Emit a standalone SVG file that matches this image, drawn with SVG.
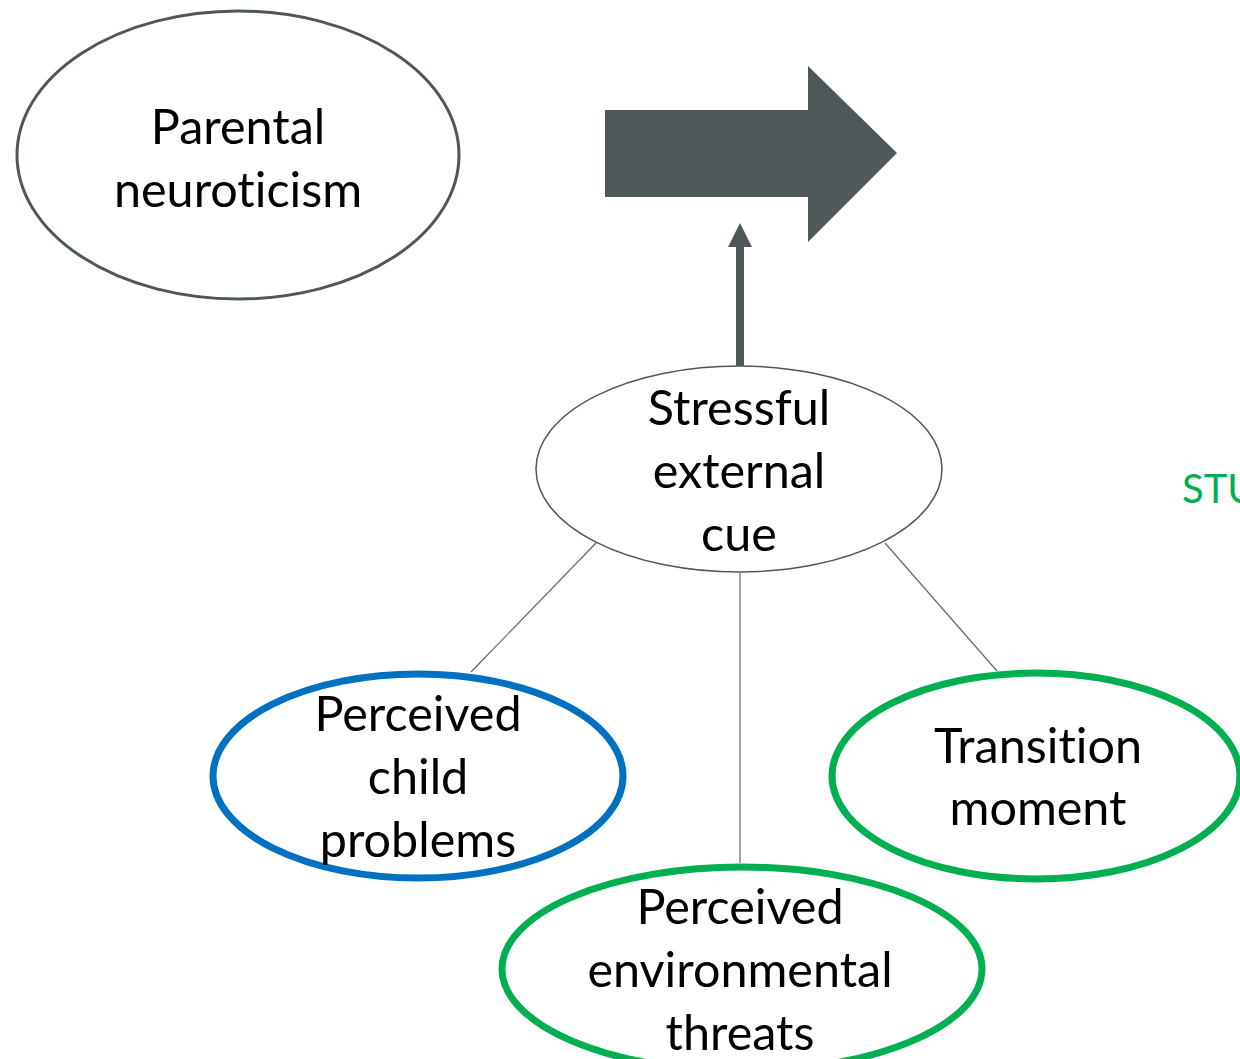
<svg xmlns="http://www.w3.org/2000/svg" width="1240" height="1059" viewBox="0 0 1240 1059">
<style>
.t{font-family:Lato,"Open Sans","Liberation Sans",sans-serif;font-size:48.5px;fill:#000;text-anchor:middle;font-variant-ligatures:none}
.dark{fill:#4f5858}
.conn{stroke:#666;stroke-width:1.2;fill:none}
</style>
<rect width="1240" height="1059" fill="#fff"/>
<g id="connectors">
<line class="conn" x1="596" y1="543" x2="471" y2="672"/>
<line class="conn" x1="740" y1="573" x2="740" y2="863"/>
<line class="conn" x1="885" y1="543" x2="997" y2="671"/>
<rect class="dark" x="736" y="246" width="8" height="120"/>
<polygon class="dark" points="740,223 752,247 728,247"/>
</g>
<g id="big-arrow">
<polygon class="dark" points="605,110 808,110 808,66 897,153 808,242 808,197 605,197"/>
</g>
<g id="parental">
<ellipse cx="238" cy="155" rx="221" ry="144" fill="#fff" stroke="#4f5858" stroke-width="3"/>
<text class="t" x="238" y="144">Parental</text>
<text class="t" x="238" y="207">neuroticism</text>
</g>
<g id="stressful">
<ellipse cx="739" cy="469" rx="203" ry="103" fill="#fff" stroke="#555" stroke-width="1.5"/>
<text class="t" x="739" y="425">Stressful</text>
<text class="t" x="739" y="488">external</text>
<text class="t" x="739" y="551">cue</text>
</g>
<g id="child">
<ellipse cx="418" cy="776" rx="205" ry="102" fill="none" stroke="#0070c0" stroke-width="7"/>
<text class="t" x="418" y="731">Perceived</text>
<text class="t" x="418" y="794">child</text>
<text class="t" x="418" y="857">problems</text>
</g>
<g id="transition">
<ellipse cx="1036" cy="776" rx="204" ry="103" fill="none" stroke="#00b050" stroke-width="7"/>
<text class="t" x="1038" y="763">Transition</text>
<text class="t" x="1038" y="825">moment</text>
</g>
<g id="environment">
<ellipse cx="742" cy="969" rx="240" ry="102" fill="none" stroke="#00b050" stroke-width="7"/>
<text class="t" x="740" y="924">Perceived</text>
<text class="t" x="740" y="987">environmental</text>
<text class="t" x="740" y="1050">threats</text>
</g>
<g id="stu">
<text x="1182" y="503" style="font-family:Lato,'Open Sans','Liberation Sans',sans-serif;font-size:40px;fill:#00b050">STU</text>
</g>
</svg>
